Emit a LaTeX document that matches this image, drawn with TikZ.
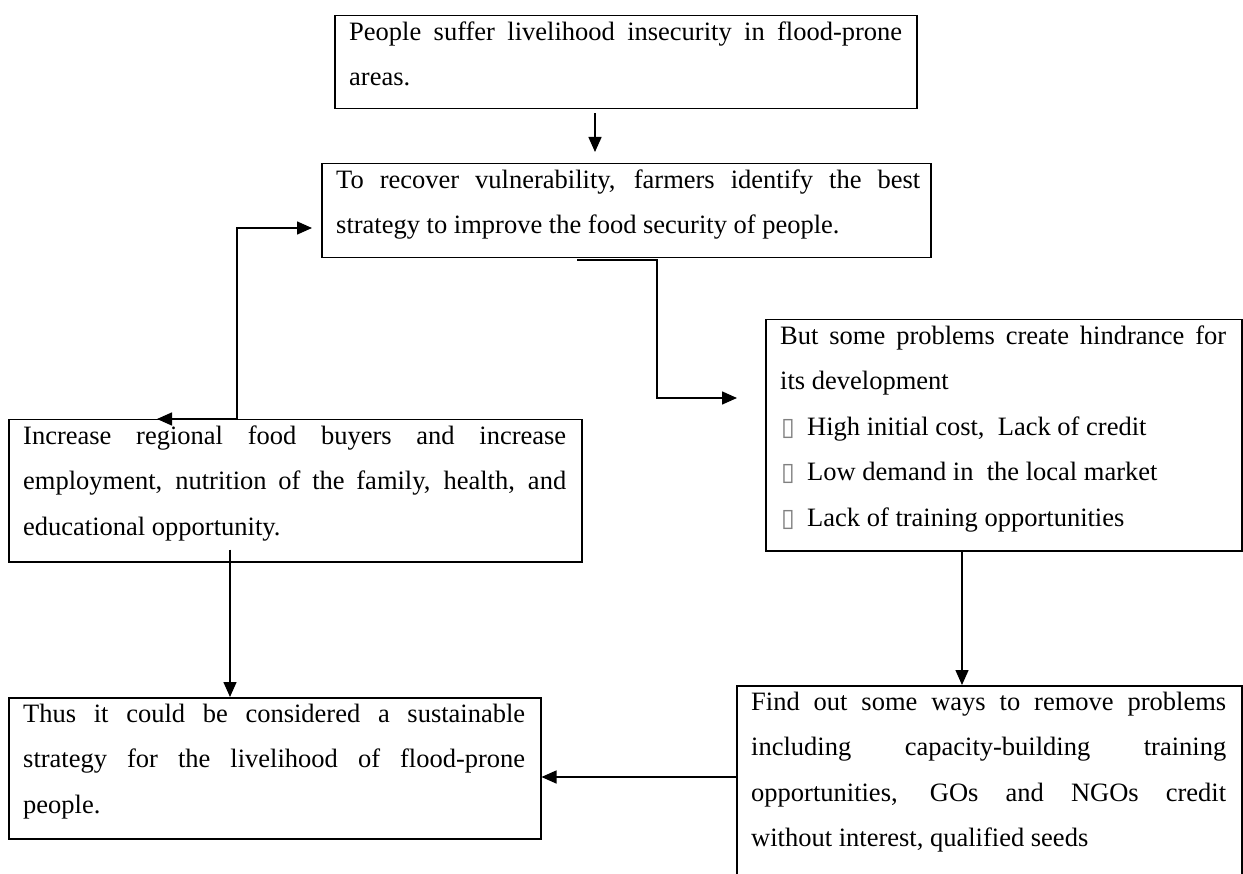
\documentclass[tikz,border=0pt]{standalone}
\usepackage{fontspec}
\setmainfont{Liberation Serif}
\newfontfamily\dejavu{DejaVu Sans}
\usetikzlibrary{arrows.meta,calc}
\tolerance=10000
\hbadness=10000
\hyphenpenalty=10000
\exhyphenpenalty=10000
\tikzset{
  box/.style={draw, line width=1.5pt, inner sep=0pt, anchor=north west},
  txt/.style={inner sep=0pt, anchor=north west, font=\fontsize{26.5}{45.5}\selectfont},
  arr/.style={line width=1.5pt, -{Triangle[length=15pt,width=13pt]}},
}
\newcommand\frstline{\vrule width 0pt height 25pt depth 0pt\relax}
\newcommand\jtext[2]{\parbox[t]{#1}{#2}}
\newcommand\tofubullet{\makebox[27pt][l]{\hspace{1pt}{\dejavu\fontsize{25}{25}\selectfont\color{black!50}▯}}}
\newcommand\raggedend{\hfill\null\linebreak}
\begin{document}
\begin{tikzpicture}[x=1pt,y=-1pt]
\useasboundingbox (0,0) rectangle (1243,874);
% boxes
\node[box, minimum width=582pt, minimum height=93pt]  (b1) at (334,15) {};
\node[box, minimum width=609pt, minimum height=94pt]  (b2) at (321,163) {};
\node[box, minimum width=476pt, minimum height=231pt] (b3) at (765,319) {};
\node[box, minimum width=573pt, minimum height=142pt] (b4) at (8,419) {};
\node[box, minimum width=532pt, minimum height=141pt] (b5) at (8,697) {};
\node[box, minimum width=505pt, minimum height=240pt] (b6) at (736,685) {};
% texts
\node[txt] (t1) at ([xshift=15pt]b1.north west)
  {\jtext{553pt}{People\frstline{} suffer livelihood insecurity in flood-prone\linebreak areas.}};
\node[txt] (t2) at ([xshift=15pt]b2.north west)
  {\jtext{584pt}{To\frstline{} recover vulnerability, farmers identify the best\linebreak strategy to improve the food security of people.}};
\node[txt] (t3) at ([xshift=15pt]b3.north west)
  {\jtext{446pt}{But\frstline{} some problems create hindrance for\linebreak its development\raggedend
   \tofubullet High initial cost, \ Lack of credit\raggedend
   \tofubullet Low demand in \ the local market\raggedend
   \tofubullet Lack of training opportunities}};
\node[txt] (t4) at ([xshift=15pt]b4.north west)
  {\jtext{543pt}{Increase\frstline{} regional food buyers and increase\linebreak employment, nutrition of the family, health, and\linebreak educational opportunity.}};
\node[txt] (t5) at ([xshift=15pt]b5.north west)
  {\jtext{502pt}{Thus\frstline{} it could be considered a sustainable\linebreak strategy for the livelihood of flood-prone\linebreak people.}};
\node[txt] (t6) at ([xshift=15pt]b6.north west)
  {\jtext{475pt}{Find\frstline{} out some ways to remove problems\linebreak including capacity-building training\linebreak opportunities, GOs and NGOs credit\linebreak without interest, qualified seeds}};
% connectors
\draw[arr] ([xshift=261pt,yshift=-4pt]b1.south west) -- ([xshift=274pt,yshift=11pt]b2.north west);
\draw[arr] ([xshift=256pt,yshift=-1.5pt]b2.south west) -- ++(80pt,0) |- ([xshift=-28pt,yshift=-79pt]b3.north west);
\coordinate (p36) at ([xshift=197pt]b3.south west);
\draw[arr] (p36) -- (p36 |- b6.north);
\coordinate (p65) at ([yshift=-92pt]b6.north west);
\draw[arr] (p65) -- (p65 -| b5.east);
\coordinate (p45) at ([xshift=222pt,yshift=13pt]b4.south west);
\draw[arr] (p45) -- (p45 |- b5.north);
\coordinate (p42) at ([xshift=229pt]b4.north west);
\draw[arr] (p42) |- ([xshift=-9pt,yshift=-65pt]b2.north west);
\draw[arr] (p42) -- ([xshift=149pt]b4.north west);
\end{tikzpicture}
\end{document}
